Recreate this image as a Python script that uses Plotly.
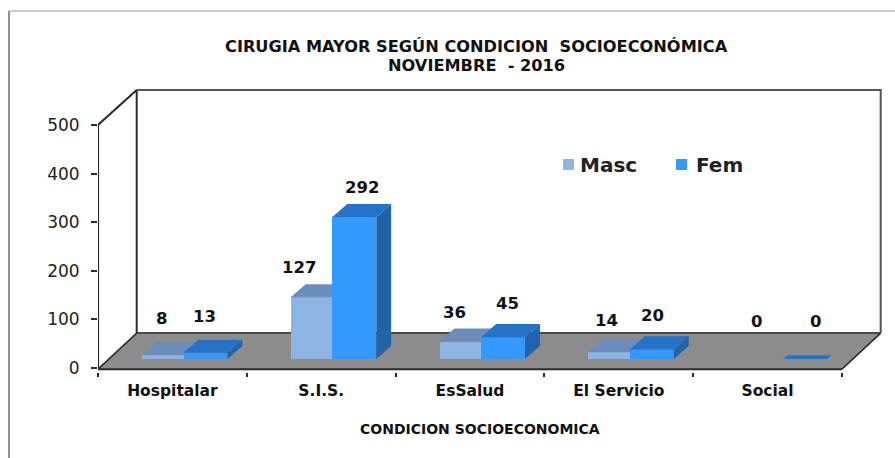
import plotly.graph_objects as go

# ---- data ----
categories = ["Hospitalar", "S.I.S.", "EsSalud", "El Servicio", "Social"]
masc = [8, 127, 36, 14, 0]
fem = [13, 292, 45, 20, 0]
y_ticks = [0, 100, 200, 300, 400, 500]
title_lines = ["CIRUGIA MAYOR SEGÚN CONDICION  SOCIOECONÓMICA", "NOVIEMBRE  - 2016"]
x_title = "CONDICION SOCIOECONOMICA"

# ---- style / layout constants ----
W, H = 895, 458
L, R, T, B = 98, 888, 86, 372      # plot area in page pixels
XMAX = (R - L) / 148.8
YTOP, YBOT = 580, -8
BASE = 18.5                        # bars stand on the floor, in front of its back edge
DX, DY = 0.10, 27                  # bar depth
WALL_DX, WALL_DY = 0.26, 72        # wall depth
M0, M1, F1 = 0.295, 0.575, 0.87    # bar edges inside a category
C_M, C_M_TOP = "#8DB4E2", "#6C8DB9"
C_F, C_F_TOP, C_F_SIDE = "#3399FF", "#2672C6", "#2264A8"
FLOOR = "#8C8C8C"
DARK = "#2B2B2B"
FONT = "DejaVu Sans"
# label placement tweaks (pixels sideways, value units above the bar's rear top)
M_SHIFT, M_LIFT = [-1, -13, -6, -3, -1], [49, 35, 32, 39, 51]
F_SHIFT, F_LIFT = [-1, 8, 4, 1, 15], [48, 33, 43, 43, 51]


def px(x):
    return (x - L) / (R - L)


def py(y):
    return (B - y) / (B - T)


n = len(categories)
fig = go.Figure()

# front faces
fig.add_trace(go.Bar(name="Masc", x=[i + (M0 + M1) / 2 for i in range(n)], y=masc, base=BASE,
                     width=M1 - M0, marker=dict(color=C_M, line_width=0), xaxis="x", yaxis="y"))
fig.add_trace(go.Bar(name="Fem", x=[i + (M1 + F1) / 2 for i in range(n)], y=fem, base=BASE,
                     width=F1 - M1, marker=dict(color=C_F, line_width=0), xaxis="x2", yaxis="y2"))


def face(xs, ys, color, axes):
    fig.add_trace(go.Scatter(x=xs + xs[:1], y=ys + ys[:1], mode="lines", fill="toself",
                             fillcolor=color, line=dict(width=0, color=color), showlegend=False,
                             hoverinfo="skip", xaxis=axes[0], yaxis=axes[1]))


for i in range(n):
    m_top, f_top = BASE + masc[i], BASE + fem[i]
    if masc[i] > 0:
        face([i + M0, i + M1, i + M1 + DX, i + M0 + DX],
             [m_top, m_top, m_top + DY, m_top + DY], C_M_TOP, ("x", "y"))
    if fem[i] > 0:
        face([i + M1, i + F1, i + F1 + DX, i + M1 + DX],
             [f_top, f_top, f_top + DY, f_top + DY], C_F_TOP, ("x2", "y2"))
        face([i + F1, i + F1 + DX, i + F1 + DX, i + F1],
             [BASE, BASE + DY, f_top + DY, f_top], C_F_SIDE, ("x2", "y2"))
    else:
        d = 0.3
        face([i + M1 + .03, i + F1 + .03, i + F1 + .03 + DX * d, i + M1 + .03 + DX * d],
             [f_top, f_top, f_top + DY * d, f_top + DY * d], C_F_TOP, ("x2", "y2"))

# y axis and wall frame
line_kw = dict(mode="lines", showlegend=False, hoverinfo="skip", cliponaxis=False)
fig.add_trace(go.Scatter(x=[0, 0], y=[y_ticks[0], y_ticks[-1]], line=dict(color=DARK, width=2.2), **line_kw))
fig.add_trace(go.Scatter(x=[0, WALL_DX, WALL_DX], y=[y_ticks[-1], y_ticks[-1] + WALL_DY, WALL_DY],
                         line=dict(color=DARK, width=2), **line_kw))
fig.add_trace(go.Scatter(x=[WALL_DX, n + WALL_DX, n + WALL_DX],
                         y=[y_ticks[-1] + WALL_DY, y_ticks[-1] + WALL_DY, WALL_DY],
                         line=dict(color="#555555", width=2), **line_kw))

shapes = [
    dict(type="path", xref="x", yref="y", layer="below", fillcolor=FLOOR, line=dict(width=0),
         path=f"M 0 -2 L {WALL_DX} {WALL_DY} L {n + WALL_DX} {WALL_DY} L {n} -2 Z"),
    dict(type="line", xref="x", yref="y", layer="below", x0=WALL_DX, x1=n + WALL_DX, y0=WALL_DY, y1=WALL_DY,
         line=dict(color="#4A4A4A", width=2)),
    dict(type="line", xref="x", yref="y", layer="below", x0=0, x1=n, y0=-2.5, y1=-2.5,
         line=dict(color=DARK, width=2)),
    dict(type="line", xref="x", yref="y", layer="below", x0=0, x1=WALL_DX, y0=-2, y1=WALL_DY,
         line=dict(color=DARK, width=1.5)),
    dict(type="line", xref="x", yref="y", layer="below", x0=n, x1=n + WALL_DX, y0=-2, y1=WALL_DY,
         line=dict(color=DARK, width=1.5)),
    # outer frame of the picture
    dict(type="line", xref="paper", yref="paper", x0=px(9), x1=px(9), y0=py(11), y1=py(H),
         line=dict(color="#6E6E6E", width=1.5)),
    dict(type="line", xref="paper", yref="paper", x0=px(9), x1=px(W), y0=py(11), y1=py(11),
         line=dict(color="#9A9A9A", width=1.2)),
    # legend swatches
    dict(type="rect", xref="paper", yref="paper", x0=px(563), x1=px(574), y0=py(159), y1=py(170),
         fillcolor=C_M, line_width=0),
    dict(type="rect", xref="paper", yref="paper", x0=px(676), x1=px(687), y0=py(159), y1=py(170),
         fillcolor=C_F, line_width=0),
]


def note(x, y, text, size, color="#111111", xanchor="center"):
    return dict(x=px(x), y=py(y), xref="paper", yref="paper", text=f"<b>{text}</b>", showarrow=False,
                xanchor=xanchor, yanchor="middle", font=dict(family=FONT, size=size, color=color))


annotations = []
for i in range(n):
    for v, cx, shift, lift in ((masc[i], (M0 + M1) / 2, M_SHIFT[i], M_LIFT[i]),
                               (fem[i], (M1 + F1) / 2, F_SHIFT[i], F_LIFT[i])):
        annotations.append(dict(x=i + cx, y=BASE + v + DY + lift, xref="x", yref="y", text=f"<b>{v}</b>",
                                showarrow=False, xshift=shift, yanchor="middle",
                                font=dict(family=FONT, size=16.5, color="#111111")))
annotations += [
    note(480, 429, x_title, 14),
    note(476, 47, title_lines[0], 16.2),
    note(476, 65, title_lines[1], 16.2),
    note(578, 165, "Masc", 20, "#222222", "left"),
    note(694, 165, "Fem", 20, "#222222", "left"),
]

fig.update_layout(
    width=W, height=H, autosize=False,
    margin=dict(l=L, r=W - R, t=T, b=H - B, pad=0),
    paper_bgcolor="white", plot_bgcolor="white",
    barmode="overlay", bargap=0, showlegend=False,
    shapes=shapes, annotations=annotations,
    xaxis=dict(range=[0, XMAX], tickmode="array", tickvals=[i + 0.5 for i in range(n)], ticktext=categories,
               ticks="", showgrid=False, zeroline=False, showline=False, ticklabelstandoff=7,
               tickfont=dict(family=FONT, size=15.5, color="#111111", weight="bold"),
               minor=dict(tickmode="array", tickvals=list(range(n + 1)), ticks="outside", ticklen=4,
                          tickcolor=DARK, tickwidth=1.5, showgrid=False)),
    yaxis=dict(range=[YBOT, YTOP], tickmode="array", tickvals=y_ticks, ticks="outside", ticklen=6,
               tickcolor=DARK, tickwidth=1.5, showgrid=False, zeroline=False, showline=False,
               ticklabelstandoff=8, tickfont=dict(family=FONT, size=17, color="#222222")),
    xaxis2=dict(range=[0, XMAX], overlaying="x", visible=False),
    yaxis2=dict(range=[YBOT, YTOP], overlaying="y", visible=False),
)

fig.write_html("out.html", config={"displayModeBar": False},
               post_script="document.body.style.margin='0';document.body.style.overflow='hidden';")
